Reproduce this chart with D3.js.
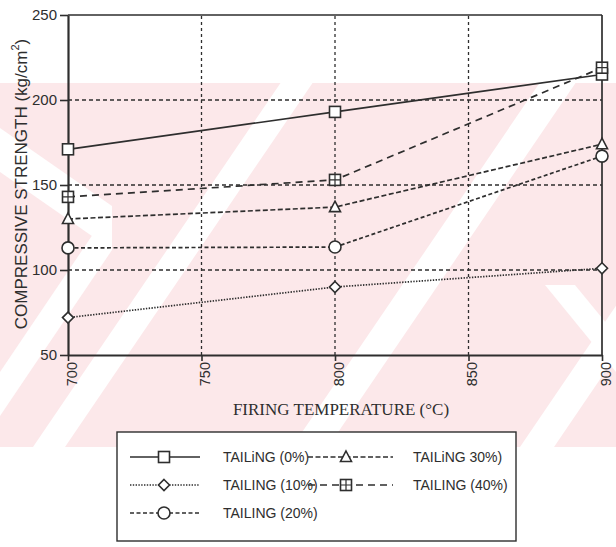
<!DOCTYPE html>
<html>
<head>
<meta charset="utf-8">
<script src="https://cdn.jsdelivr.net/npm/d3@7"></script>
<style>
  body { margin: 0; background: #fff; }
  svg { display: block; }
  text { fill: #2e2e2e; }
</style>
</head>
<body>
<svg id="chart" width="616" height="547"></svg>
<script>
// Firing temperature (°C) and compressive strength (kg/cm²) per tailing content
const temperatures = [700, 800, 900];
const tailing0  = [171, 193, 215];
const tailing10 = [72, 90, 101];
const tailing20 = [113, 113.5, 167];
const tailing30 = [130, 137, 174];
const tailing40 = [143, 153, 219];

const seriesLabels = ["TAILiNG (0%)", "TAILING (10%)", "TAILING (20%)", "TAILiNG 30%)", "TAILING (40%)"];

const xTicks = [700, 750, 800, 850, 900];
const yTicks = [50, 100, 150, 200, 250];
const xGridValues = [750, 800, 850];
const yGridValues = [100, 150, 200];

const INK = "#2e2e2e";
const svg = d3.select("#chart");

// background stamp: pale pink band crossed by white diagonal strips
const bg = svg.append("g");
const bandTop = 83, bandBottom = 447;
bg.append("rect").attr("x", 0).attr("y", bandTop).attr("width", 616)
  .attr("height", bandBottom - bandTop).attr("fill", "#fce8ea");
const lean = 0.68;
const h = bandBottom - bandTop;
[[33, 32], [292, 36], [520, 34]].forEach(([b, w]) => {
  bg.append("polygon").attr("fill", "#fff").attr("points", [
    [b, bandBottom], [b + w, bandBottom], [b + w + lean * h, bandTop], [b + lean * h, bandTop]
  ].map(p => p.join(",")).join(" "));
});
// backward strips near the left and right edges
bg.append("polygon").attr("fill", "#fff")
  .attr("points", "0,128 0,172 112,250 112,206");
bg.append("polygon").attr("fill", "#fff")
  .attr("points", "0,372 0,416 112,250 112,206");
bg.append("polygon").attr("fill", "#fff")
  .attr("points", "545,285 575,285 616,335 616,372");

// scales
const x = d3.scaleLinear().domain([700, 900]).range([68, 602]);
const y = d3.scaleLinear().domain([50, 250]).range([355, 15]);

// grid
const grid = svg.append("g").attr("stroke", INK).attr("stroke-width", 1.3).attr("fill", "none");
grid.selectAll("line.h").data(yGridValues).join("line").attr("class", "h")
  .attr("x1", x(700)).attr("x2", x(900)).attr("y1", d => y(d)).attr("y2", d => y(d))
  .attr("stroke-dasharray", "4,3");
grid.selectAll("line.v").data(xGridValues).join("line").attr("class", "v")
  .attr("y1", y(50)).attr("y2", y(250)).attr("x1", d => x(d)).attr("x2", d => x(d))
  .attr("stroke-dasharray", "3,3");

// frame: top and right edges
svg.append("line").attr("x1", x(700)).attr("x2", x(900)).attr("y1", y(250)).attr("y2", y(250))
  .attr("stroke", INK).attr("stroke-width", 1.7);
svg.append("line").attr("x1", x(900)).attr("x2", x(900)).attr("y1", y(250)).attr("y2", y(50))
  .attr("stroke", INK).attr("stroke-width", 1.7);

// axes
const yAxis = svg.append("g").attr("transform", `translate(${x(700)},0)`)
  .call(d3.axisLeft(y).tickValues(yTicks).tickSize(8).tickSizeOuter(0).tickPadding(3));
yAxis.select(".domain").attr("stroke", INK).attr("stroke-width", 2.2);
yAxis.selectAll(".tick line").attr("stroke", INK).attr("stroke-width", 1.6);
yAxis.selectAll(".tick text").attr("font-family", "Liberation Sans, Arial, sans-serif")
  .attr("font-size", 15).attr("fill", INK).attr("x", -11);

const xAxis = svg.append("g").attr("transform", `translate(0,${y(50)})`)
  .call(d3.axisBottom(x).tickValues(xTicks).tickSize(6).tickSizeOuter(0));
xAxis.select(".domain").attr("stroke", INK).attr("stroke-width", 2.2);
xAxis.selectAll(".tick line").attr("stroke", INK).attr("stroke-width", 1.6);
xAxis.selectAll(".tick text").attr("font-family", "Liberation Sans, Arial, sans-serif")
  .attr("font-size", 14.5).attr("fill", INK)
  .attr("transform", "rotate(-90)").attr("x", -7).attr("y", 0).attr("dy", "0.56em")
  .style("text-anchor", "end");

// axis titles
const yTitle = svg.append("text")
  .attr("transform", "translate(27,184) rotate(-90)")
  .attr("text-anchor", "middle")
  .attr("font-family", "Liberation Sans, Arial, sans-serif").attr("font-size", 17);
yTitle.append("tspan").text("COMPRESSIVE STRENGTH (kg/cm");
yTitle.append("tspan").attr("font-size", 11).attr("dy", -8).text("2");
yTitle.append("tspan").attr("dy", 8).text(")");

svg.append("text").attr("x", 341).attr("y", 415).attr("text-anchor", "middle")
  .attr("font-family", "Liberation Serif, Times New Roman, serif").attr("font-size", 17)
  .text("FIRING TEMPERATURE (°C)");

// marker shapes
function drawMarker(g, kind, cx, cy) {
  const m = g.append("g").attr("transform", `translate(${cx},${cy})`)
    .attr("fill", "#fff").attr("stroke", INK).attr("stroke-width", 1.6);
  if (kind === "square") {
    m.append("rect").attr("x", -5.5).attr("y", -5.5).attr("width", 11).attr("height", 11);
  } else if (kind === "diamond") {
    m.append("path").attr("d", "M0,-5.5L5.5,0L0,5.5L-5.5,0Z");
  } else if (kind === "circle") {
    m.append("circle").attr("r", 6);
  } else if (kind === "triangle") {
    m.append("path").attr("d", "M0,-6L5.5,4.5L-5.5,4.5Z");
  } else if (kind === "boxcross") {
    m.append("rect").attr("x", -5.5).attr("y", -5.5).attr("width", 11).attr("height", 11);
    m.append("path").attr("d", "M0,-5.5V5.5M-5.5,0H5.5").attr("stroke-width", 1.2);
  }
}

const series = [
  { label: seriesLabels[0], values: tailing0,  dash: null,      marker: "square" },
  { label: seriesLabels[1], values: tailing10, dash: "1.4,1.4", marker: "diamond" },
  { label: seriesLabels[2], values: tailing20, dash: "4,2.5",   marker: "circle" },
  { label: seriesLabels[3], values: tailing30, dash: "5,2.5",   marker: "triangle" },
  { label: seriesLabels[4], values: tailing40, dash: "7,5",     marker: "boxcross" }
];

const line = d3.line().x(d => x(d[0])).y(d => y(d[1]));
const plot = svg.append("g");
series.forEach(s => {
  const pts = temperatures.map((t, i) => [t, s.values[i]]);
  plot.append("path").attr("d", line(pts)).attr("fill", "none")
    .attr("stroke", INK).attr("stroke-width", 1.7)
    .attr("stroke-dasharray", s.dash);
});
series.forEach(s => {
  temperatures.forEach((t, i) => drawMarker(plot, s.marker, x(t), y(s.values[i])));
});

// legend
const legend = svg.append("g");
legend.append("rect").attr("x", 117).attr("y", 432).attr("width", 399).attr("height", 109)
  .attr("fill", "#fff").attr("stroke", INK).attr("stroke-width", 1.4);
const slots = [
  { col: 0, row: 0 }, { col: 0, row: 1 }, { col: 0, row: 2 }, { col: 1, row: 0 }, { col: 1, row: 1 }
];
const cols = [
  { x1: 130, x2: 200, mx: 164, tx: 223 },
  { x1: 308, x2: 393, mx: 346, tx: 413 }
];
series.forEach((s, i) => {
  const c = cols[slots[i].col];
  const cy = 457 + slots[i].row * 28;
  legend.append("line").attr("x1", c.x1).attr("x2", c.x2).attr("y1", cy).attr("y2", cy)
    .attr("stroke", INK).attr("stroke-width", 1.5).attr("stroke-dasharray", s.dash);
  drawMarker(legend, s.marker, c.mx, cy);
  legend.append("text").attr("x", c.tx).attr("y", cy + 5)
    .attr("font-family", "Liberation Sans, Arial, sans-serif").attr("font-size", 14)
    .text(s.label);
});
</script>
</body>
</html>
